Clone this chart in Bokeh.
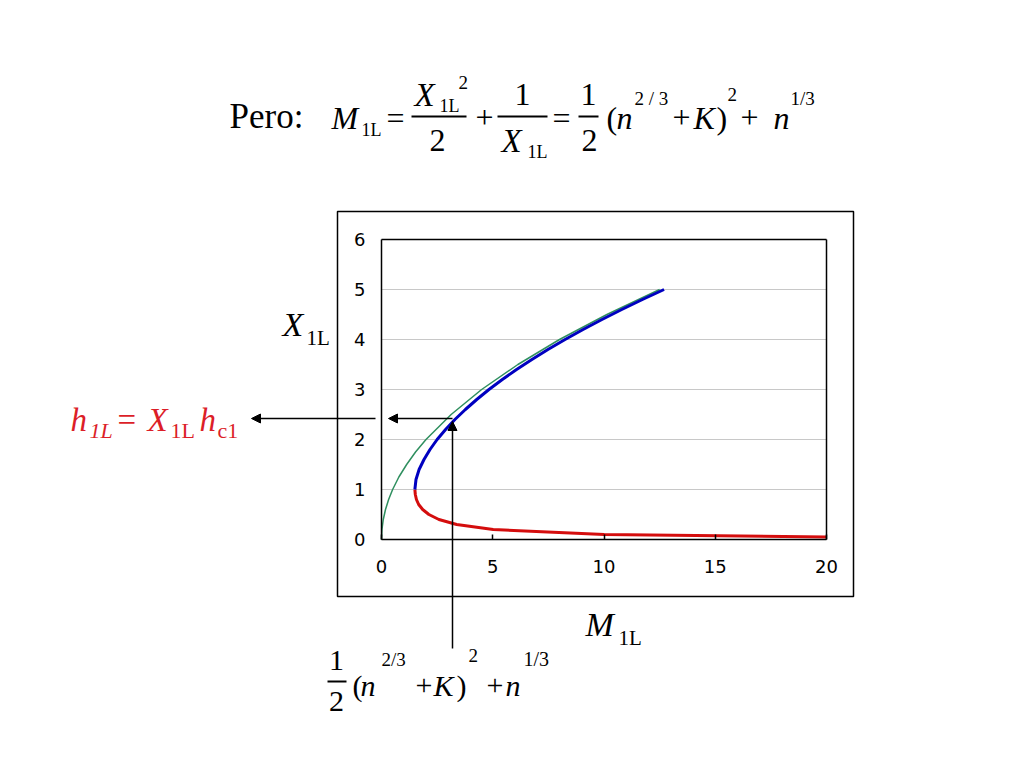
from bokeh.plotting import figure
from bokeh.models import (Range1d, FixedTicker, Label, Arrow, NormalHead,
                          BoxAnnotation, LinearAxis)
from bokeh.embed import file_html
from bokeh.resources import INLINE

# ---------------- data ----------------
# lower branch (red): X1L < 1
red_M = [1.50, 1.52, 1.57, 1.67, 1.85, 2.13, 2.58, 3.38, 5.02, 10.01, 20.0]
red_X = [1.00, 0.90, 0.80, 0.70, 0.60, 0.50, 0.40, 0.30, 0.20, 0.10, 0.05]
# upper branch (blue): X1L > 1
blue_M = [1.50, 1.55, 1.69, 1.91, 2.18, 2.50, 2.88, 3.30, 3.77, 4.28, 4.83,
          5.43, 6.07, 6.76, 7.48, 8.25, 9.06, 9.91, 10.80, 11.73, 12.70]
blue_X = [1.0, 1.2, 1.4, 1.6, 1.8, 2.0, 2.2, 2.4, 2.6, 2.8, 3.0,
          3.2, 3.4, 3.6, 3.8, 4.0, 4.2, 4.4, 4.6, 4.8, 5.0]
# thin green curve
green_M = [0.0, 0.02, 0.08, 0.18, 0.32, 0.50, 0.78, 1.13, 1.53, 2.00,
           3.13, 4.50, 6.13, 8.00, 10.13, 12.50]
green_X = [0.0, 0.2, 0.4, 0.6, 0.8, 1.0, 1.25, 1.5, 1.75, 2.0,
           2.5, 3.0, 3.5, 4.0, 4.5, 5.0]

x_ticks = [0, 5, 10, 15, 20]
y_ticks = [0, 1, 2, 3, 4, 5, 6]

# ---------------- page geometry ----------------
W, H = 1008, 752
OX, OY = 381, 539          # page pixel of data (0, 0)
SX = 445.0 / 20.0          # pixels per x unit
SY = 300.0 / 6.0           # pixels per y unit

def FX(px):
    return (px - OX) / SX

def FY(py):
    return (OY - py) / SY

p = figure(width=W, height=H, output_backend="svg", toolbar_location=None,
           x_range=Range1d(FX(0), FX(W)), y_range=Range1d(FY(H), FY(0)),
           min_border=0, x_axis_location=None, y_axis_location=None)
p.background_fill_color = "white"
p.border_fill_color = "white"
p.outline_line_color = None
p.grid.visible = False

xmin, xmax = x_ticks[0], x_ticks[-1]
ymin, ymax = y_ticks[0], y_ticks[-1]

def style(ax):
    ax.axis_line_color = "black"
    ax.axis_line_width = 1.5
    ax.minor_tick_line_color = None
    ax.major_label_text_font = "DejaVu Sans"
    ax.major_label_text_font_size = "18px"
    ax.major_label_text_color = "black"

xax = LinearAxis(ticker=FixedTicker(ticks=x_ticks), fixed_location=ymin,
                 bounds=(xmin, xmax))
style(xax)
xax.major_tick_in = 5
xax.major_tick_out = 0
xax.major_tick_line_color = "black"
xax.major_tick_line_width = 1.5
xax.major_label_standoff = 20
p.add_layout(xax, "below")

yax = LinearAxis(ticker=FixedTicker(ticks=y_ticks), fixed_location=xmin,
                 bounds=(ymin, ymax))
style(yax)
yax.major_tick_in = 0
yax.major_tick_out = 0
yax.major_label_standoff = 16
p.add_layout(yax, "left")

# top and right edges of the plot box
tax = LinearAxis(ticker=FixedTicker(ticks=[]), fixed_location=ymax, bounds=(xmin, xmax))
style(tax)
p.add_layout(tax, "above")
rax = LinearAxis(ticker=FixedTicker(ticks=[]), fixed_location=xmax, bounds=(ymin, ymax))
style(rax)
p.add_layout(rax, "right")

# horizontal grid lines at the inner y ticks
gy = y_ticks[1:-1]
p.segment(x0=[xmin] * len(gy), x1=[xmax] * len(gy), y0=gy, y1=gy,
          line_color="#c8c8c8", line_width=1, level="underlay")

p.line(green_M, green_X, line_color="#2f8f5f", line_width=1.5)
p.line(red_M, red_X, line_color="#d40d0d", line_width=3)
p.line(blue_M, blue_X, line_color="#0000c0", line_width=3)

SERIF = "Liberation Serif"
K_BASE = 0.36   # rendered text sits this fraction of its size below the anchor

def txt(s, px, py, size, italic=False, color="black", align="left"):
    p.add_layout(Label(x=FX(px), y=FY(py - K_BASE * size), text=s,
                       x_units="data", y_units="data",
                       text_font=SERIF, text_font_size=f"{size}px",
                       text_font_style="italic" if italic else "normal",
                       text_color=color, text_align=align,
                       text_baseline="alphabetic"))

def hline(x0, x1, y, w=2):
    p.add_layout(Arrow(start=None, end=None, x_start=FX(x0), y_start=FY(y),
                       x_end=FX(x1), y_end=FY(y), line_color="black", line_width=w))

def arrow(x0, y0, x1, y1):
    p.add_layout(Arrow(end=NormalHead(size=9, fill_color="black", line_color="black"),
                       x_start=FX(x0), y_start=FY(y0), x_end=FX(x1), y_end=FY(y1),
                       line_color="black", line_width=1.5))

# outer frame around the chart
p.add_layout(BoxAnnotation(left=FX(337), right=FX(853), top=FY(211), bottom=FY(596),
                           fill_alpha=0, line_color="black", line_width=1.5,
                           line_alpha=1, level="underlay"))

# ---------------- top equation ----------------
BL = 129
NUM, BAR, DEN = 106, 116, 152
txt("Pero:", 229, BL, 35)
txt("M", 331, BL, 32, italic=True)
txt("1L", 361, BL + 7, 18)
txt("=", 386, BL, 32)
# fraction X^2/2
txt("X", 414, NUM, 33, italic=True)
txt("1L", 439, NUM + 6, 18)
txt("2", 458, 89, 19)
hline(411, 466, BAR)
txt("2", 437, DEN, 32, align="center")
txt("+", 475, BL, 32)
# fraction 1/X
txt("1", 522, NUM, 32, align="center")
hline(497, 547, BAR)
txt("X", 501, DEN, 33, italic=True)
txt("1L", 527, DEN + 6, 18)
txt("=", 552, BL, 32)
# fraction 1/2
txt("1", 588, NUM, 32, align="center")
hline(578, 598, BAR)
txt("2", 589, DEN, 32, align="center")
txt("(", 606, BL, 32)
txt("n", 616, BL, 32, italic=True)
txt("2 / 3", 634, 105, 19)
txt("+", 672, BL, 32)
txt("K", 693, BL, 32, italic=True)
txt(")", 716, BL, 32)
txt("2", 727, 101, 19)
txt("+", 740, BL, 32)
txt("n", 773, BL, 32, italic=True)
txt("1/3", 790, 105, 19)

# ---------------- axis titles ----------------
txt("X", 282, 336, 34, italic=True)
txt("1L", 306, 345, 21)
txt("M", 585, 636, 34, italic=True)
txt("1L", 618, 645, 21)

# ---------------- red relation ----------------
RED = "#dc1e28"
txt("h", 70, 431, 33, italic=True, color=RED)
txt("1L", 89, 438, 22, italic=True, color=RED)
txt("=", 117, 431, 33, color=RED)
txt("X", 147, 431, 33, italic=True, color=RED)
txt("1L", 170, 438, 22, color=RED)
txt("h", 199, 431, 33, italic=True, color=RED)
txt("c1", 217, 438, 22, color=RED)

# ---------------- bottom formula ----------------
BB = 696
txt("1", 336, 671, 30, align="center")
hline(327, 346, 681)
txt("2", 336, 712, 30, align="center")
txt("(", 352, BB, 30)
txt("n", 360, BB, 30, italic=True)
txt("2/3", 381, 666, 19)
txt("+", 415, BB, 30)
txt("K", 433, BB, 30, italic=True)
txt(")", 456, BB, 30)
txt("2", 468, 662, 19)
txt("+", 486, BB, 30)
txt("n", 505, BB, 30, italic=True)
txt("1/3", 523, 666, 20)

# ---------------- arrows ----------------
arrow(375, 418, 251, 418)
arrow(452, 418, 388, 418)
arrow(452, 648, 452, 421)

open("out.html", "w").write(file_html(p, INLINE))
